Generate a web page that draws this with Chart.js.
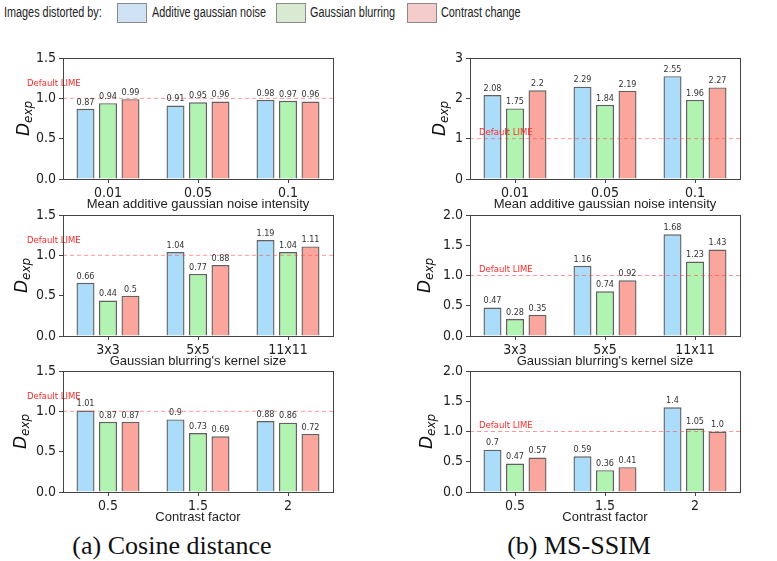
<!DOCTYPE html>
<html>
<head>
<meta charset="utf-8">
<script src="https://cdn.jsdelivr.net/npm/chart.js@4.4.1/dist/chart.umd.min.js"></script>
<style>
  body { margin: 0; background: #fff; }
  #fig { position: relative; width: 777px; height: 561px; overflow: hidden; }
  canvas { position: absolute; }
  .lg { position: absolute; top: 3px; height: 20px; line-height: 20px; font: 15.5px "Liberation Sans", Arial, sans-serif; color: #222; white-space: nowrap; transform: scaleX(0.70); transform-origin: left center; }
  .box { position: absolute; top: 3px; width: 30px; height: 20px; box-sizing: border-box; border: 1px solid #8a8a8a; }
  .cap { position: absolute; top: 531px; width: 300px; text-align: center; font: 26px "Liberation Serif", "Times New Roman", serif; color: #111; line-height: 30px; }
</style>
</head>
<body>
<div id="fig">
  <div class="lg" style="left:4px">Images distorted by:</div>
  <div class="box" style="left:117px; background:#cfe2f3"></div>
  <div class="lg" style="left:152px">Additive gaussian noise</div>
  <div class="box" style="left:276px; background:#d9ead3"></div>
  <div class="lg" style="left:310px">Gaussian blurring</div>
  <div class="box" style="left:407px; background:#f4cccc"></div>
  <div class="lg" style="left:441px">Contrast change</div>

  <canvas id="c1" width="390" height="172" style="left:0; top:40px"></canvas>
  <canvas id="c2" width="387" height="172" style="left:390px; top:40px"></canvas>
  <canvas id="c3" width="390" height="172" style="left:0; top:197px"></canvas>
  <canvas id="c4" width="387" height="172" style="left:390px; top:197px"></canvas>
  <canvas id="c5" width="390" height="172" style="left:0; top:353px"></canvas>
  <canvas id="c6" width="387" height="172" style="left:390px; top:353px"></canvas>

  <div class="cap" style="left:22px">(a) Cosine distance</div>
  <div class="cap" style="left:429px">(b) MS-SSIM</div>
</div>
<script>
// categories
const noiseLevels = ["0.01", "0.05", "0.1"];
const kernelSizes = ["3x3", "5x5", "11x11"];
const contrastFactors = ["0.5", "1.5", "2"];

// (a) cosine distance
const cosNoiseBlue = [0.87, 0.91, 0.98];
const cosNoiseGreen = [0.94, 0.95, 0.97];
const cosNoiseRed = [0.99, 0.96, 0.96];
const cosBlurBlue = [0.66, 1.04, 1.19];
const cosBlurGreen = [0.44, 0.77, 1.04];
const cosBlurRed = [0.5, 0.88, 1.11];
const cosContrastBlue = [1.01, 0.9, 0.88];
const cosContrastGreen = [0.87, 0.73, 0.86];
const cosContrastRed = [0.87, 0.69, 0.72];

// (b) MS-SSIM
const ssimNoiseBlue = [2.08, 2.29, 2.55];
const ssimNoiseGreen = [1.75, 1.84, 1.96];
const ssimNoiseRed = [2.2, 2.19, 2.27];
const ssimBlurBlue = [0.47, 1.16, 1.68];
const ssimBlurGreen = [0.28, 0.74, 1.23];
const ssimBlurRed = [0.35, 0.92, 1.43];
const ssimContrastBlue = [0.7, 0.59, 1.4];
const ssimContrastGreen = [0.47, 0.36, 1.05];
const ssimContrastRed = [0.57, 0.41, 1.0];

const defaultLime = 1;

function fmt(v) {
    return Number.isInteger(v) ? v.toFixed(1) : String(v);
}

const panelDecor = {
    id: "panelDecor",
    afterDatasetsDraw(chart, args, o) {
        const ctx = chart.ctx;
        const a = chart.chartArea;
        const y = chart.scales.y;
        ctx.save();

        // default LIME reference line
        const y1 = y.getPixelForValue(defaultLime);
        ctx.strokeStyle = "rgba(255,70,70,0.55)";
        ctx.lineWidth = 1;
        ctx.setLineDash([4, 3]);
        ctx.beginPath();
        ctx.moveTo(a.left, y1);
        ctx.lineTo(a.right, y1);
        ctx.stroke();
        ctx.setLineDash([]);
        ctx.fillStyle = "#ff2a2a";
        ctx.font = '8.5px "DejaVu Sans"';
        ctx.textAlign = "left";
        ctx.textBaseline = "middle";
        ctx.fillText("Default LIME", o.limeX, y1 - o.limeDy);

        // values on top of bars
        ctx.fillStyle = "#333";
        ctx.font = '9px "DejaVu Sans Condensed", "DejaVu Sans"';
        ctx.textAlign = "center";
        ctx.textBaseline = "bottom";
        chart.data.datasets.forEach((ds, i) => {
            chart.getDatasetMeta(i).data.forEach((bar, j) => {
                ctx.fillText(fmt(ds.data[j]), bar.x, bar.y - 2);
            });
        });

        // frame
        ctx.strokeStyle = "#444";
        ctx.lineWidth = 1;
        ctx.strokeRect(a.left + 0.5, a.top + 0.5, a.right - a.left, a.bottom - a.top);

        // y title D_exp
        ctx.translate(a.left + o.titleDx, (a.top + a.bottom) / 2);
        ctx.rotate(-Math.PI / 2);
        ctx.fillStyle = "#111";
        ctx.textAlign = "left";
        ctx.textBaseline = "alphabetic";
        ctx.font = 'italic 17px "DejaVu Sans"';
        const wD = ctx.measureText("D").width;
        ctx.font = 'italic 12px "DejaVu Sans"';
        const wE = ctx.measureText("exp").width;
        const start = -(wD + wE) / 2;
        ctx.font = 'italic 17px "DejaVu Sans"';
        ctx.fillText("D", start, 0);
        ctx.font = 'italic 12px "DejaVu Sans"';
        ctx.fillText("exp", start + wD, 3);
        ctx.restore();
    }
};

function makePanel(id, cats, blue, green, red, yMax, step, dec, xTitle, left, titleDx) {
    const edge = "rgba(0,0,0,0.62)";
    new Chart(id, {
        type: "bar",
        data: {
            labels: cats,
            datasets: [
                { data: blue, backgroundColor: "rgba(135,206,250,0.7)", borderColor: edge, borderWidth: 1.4 },
                { data: green, backgroundColor: "rgba(144,238,144,0.7)", borderColor: edge, borderWidth: 1.4 },
                { data: red, backgroundColor: "rgba(250,128,114,0.7)", borderColor: edge, borderWidth: 1.4 }
            ]
        },
        options: {
            responsive: false,
            animation: false,
            events: [],
            categoryPercentage: 0.75,
            barPercentage: 0.8,
            layout: { padding: { left: 0, top: 18, bottom: 0, right: left ? 57 : 37 } },
            plugins: {
                legend: { display: false },
                tooltip: { enabled: false },
                panelDecor: { limeX: left ? 27 : 89, limeDy: left ? 15 : 6, titleDx: titleDx }
            },
            scales: {
                x: {
                    offset: true,
                    grid: { offset: false, drawOnChartArea: false, drawTicks: true, tickLength: 4, color: "#444" },
                    border: { display: false },
                    ticks: { color: "#222", padding: 2, font: { family: '"DejaVu Sans Condensed", "DejaVu Sans"', size: 14 } },
                    title: { display: true, text: xTitle, color: "#222", padding: 0, font: { family: '"Liberation Sans", Arial', size: 13 } },
                    afterFit: s => { s.height = 33; }
                },
                y: {
                    min: 0,
                    max: yMax,
                    grid: { drawOnChartArea: false, drawTicks: true, tickLength: 4, color: "#444" },
                    border: { display: false },
                    ticks: {
                        stepSize: step,
                        padding: 3,
                        color: "#222",
                        font: { family: '"DejaVu Sans Condensed", "DejaVu Sans"', size: 14 },
                        callback: v => v.toFixed(dec)
                    },
                    afterFit: s => { s.width = left ? 63 : 80; }
                }
            }
        },
        plugins: [panelDecor]
    });
}

makePanel("c1", noiseLevels, cosNoiseBlue, cosNoiseGreen, cosNoiseRed, 1.5, 0.5, 1, "Mean additive gaussian noise intensity", true, -34);
makePanel("c2", noiseLevels, ssimNoiseBlue, ssimNoiseGreen, ssimNoiseRed, 3, 1, 0, "Mean additive gaussian noise intensity", false, -25);
makePanel("c3", kernelSizes, cosBlurBlue, cosBlurGreen, cosBlurRed, 1.5, 0.5, 1, "Gaussian blurring's kernel size", true, -36);
makePanel("c4", kernelSizes, ssimBlurBlue, ssimBlurGreen, ssimBlurRed, 2, 0.5, 1, "Gaussian blurring's kernel size", false, -40);
makePanel("c5", contrastFactors, cosContrastBlue, cosContrastGreen, cosContrastRed, 1.5, 0.5, 1, "Contrast factor", true, -37);
makePanel("c6", contrastFactors, ssimContrastBlue, ssimContrastGreen, ssimContrastRed, 2, 0.5, 1, "Contrast factor", false, -38);
</script>
</body>
</html>
